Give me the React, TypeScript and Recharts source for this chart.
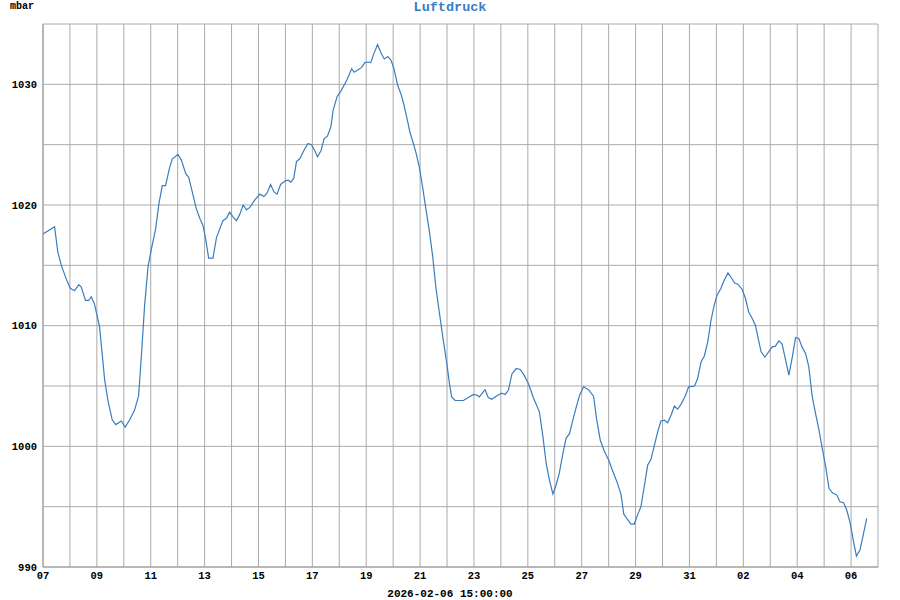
import React from 'react';
import { LineChart, Line, XAxis, YAxis, CartesianGrid } from 'recharts';

// time in days since 2026-01-07 00:00
const dayOffsets = [
  0.0, 0.43, 0.55, 0.68, 0.86, 1.01, 1.17, 1.33, 1.42, 1.58, 1.7, 1.79, 1.91,
  2.1, 2.29, 2.41, 2.57, 2.7, 2.91, 3.05, 3.22, 3.4, 3.55, 3.65, 3.77, 3.9,
  4.02, 4.18, 4.31, 4.43, 4.55, 4.7, 4.8, 5.01, 5.14, 5.3, 5.41, 5.53, 5.69,
  5.82, 5.94, 6.03, 6.15, 6.31, 6.44, 6.56, 6.68, 6.81, 6.93, 7.06, 7.18, 7.3,
  7.43, 7.55, 7.68, 7.86, 8.05, 8.2, 8.32, 8.45, 8.57, 8.69, 8.82, 9.0, 9.1,
  9.2, 9.31, 9.41, 9.54, 9.68, 9.84, 9.97, 10.09, 10.19, 10.32, 10.44, 10.56,
  10.69, 10.77, 10.92, 11.05, 11.17, 11.29, 11.46, 11.55, 11.7, 11.83, 11.95,
  12.05, 12.17, 12.26, 12.42, 12.55, 12.67, 12.8, 12.92, 13.03, 13.17, 13.29,
  13.4, 13.54, 13.62, 13.75, 13.85, 13.97, 14.1, 14.22, 14.34, 14.47, 14.59,
  14.74, 14.86, 14.99, 15.09, 15.17, 15.3, 15.48, 15.61, 15.79, 15.98, 16.1,
  16.2, 16.41, 16.53, 16.66, 16.85, 17.03, 17.16, 17.28, 17.41, 17.57, 17.72,
  17.86, 18.02, 18.21, 18.43, 18.56, 18.68, 18.8, 18.93, 19.05, 19.17, 19.3,
  19.42, 19.55, 19.67, 19.8, 19.92, 20.07, 20.25, 20.44, 20.56, 20.69, 20.84,
  21.0, 21.16, 21.33, 21.46, 21.56, 21.68, 21.83, 21.95, 22.07, 22.2, 22.32,
  22.45, 22.57, 22.7, 22.82, 22.94, 23.07, 23.19, 23.32, 23.44, 23.56, 23.69,
  23.85, 23.97, 24.19, 24.3, 24.43, 24.55, 24.68, 24.8, 24.92, 25.02, 25.17,
  25.29, 25.43, 25.55, 25.68, 25.8, 25.96, 26.08, 26.2, 26.33, 26.45, 26.54,
  26.66, 26.8, 26.94, 27.07, 27.19, 27.32, 27.44, 27.57, 27.69, 27.82, 27.94,
  28.06, 28.18, 28.31, 28.43, 28.56, 28.68, 28.81, 28.93, 29.06, 29.18, 29.31,
  29.47, 29.59, 29.72, 29.84, 29.97, 30.09, 30.2, 30.33, 30.45, 30.58,
];

const pressure = [
  1017.6, 1018.2, 1016.1, 1015.0, 1013.9, 1013.1, 1012.9, 1013.4, 1013.2,
  1012.1, 1012.1, 1012.4, 1011.8, 1009.9, 1005.5, 1003.8, 1002.2, 1001.8,
  1002.1, 1001.6, 1002.2, 1003.0, 1004.2, 1007.4, 1011.6, 1014.9, 1016.3,
  1018.0, 1020.2, 1021.6, 1021.6, 1023.1, 1023.8, 1024.2, 1023.7, 1022.6,
  1022.3, 1021.2, 1019.7, 1018.9, 1018.3, 1017.3, 1015.6, 1015.6, 1017.3,
  1018.0, 1018.7, 1018.9, 1019.4, 1019.0, 1018.7, 1019.2, 1020.0, 1019.6,
  1019.8, 1020.4, 1020.9, 1020.7, 1021.0, 1021.7, 1021.1, 1020.9, 1021.7,
  1022.0, 1022.05, 1021.9, 1022.2, 1023.6, 1023.85, 1024.5, 1025.1, 1025.0,
  1024.5, 1024.0, 1024.5, 1025.5, 1025.7, 1026.5, 1027.85, 1029.0, 1029.4,
  1029.9, 1030.4, 1031.3, 1031.0, 1031.2, 1031.4, 1031.8, 1031.85, 1031.8,
  1032.4, 1033.3, 1032.6, 1032.1, 1032.3, 1032.0, 1031.3, 1029.9, 1029.2,
  1028.3, 1026.9, 1026.05, 1025.1, 1024.3, 1023.15, 1021.4, 1019.6, 1017.9,
  1015.7, 1013.1, 1010.7, 1008.8, 1006.9, 1005.2, 1004.1, 1003.8, 1003.8,
  1003.8, 1004.05, 1004.3, 1004.25, 1004.1, 1004.7, 1004.05, 1003.9, 1004.2,
  1004.4, 1004.3, 1004.66, 1006.0, 1006.45, 1006.37, 1005.9, 1005.2, 1004.0,
  1002.86, 1000.8, 998.6, 997.2, 996.05, 996.8, 997.8, 999.4, 1000.66,
  1001.07, 1002.17, 1003.27, 1004.24, 1004.93, 1004.7, 1004.16, 1002.17,
  1000.5, 999.6, 998.86, 997.9, 996.93, 996.0, 994.4, 994.0, 993.56, 993.56,
  994.3, 995.0, 996.65, 998.45, 998.9, 1000.1, 1001.2, 1002.1, 1002.17,
  1001.95, 1002.6, 1003.33, 1003.08, 1003.5, 1004.2, 1004.93, 1005.0, 1005.6,
  1007.0, 1007.47, 1008.66, 1010.45, 1011.7, 1012.5, 1013.1, 1013.77,
  1014.37, 1013.99, 1013.54, 1013.44, 1013.0, 1012.25, 1011.14, 1010.6,
  1010.04, 1009.07, 1007.83, 1007.4, 1007.83, 1008.24, 1008.3, 1008.74,
  1008.47, 1007.14, 1005.9, 1007.42, 1009.02, 1008.94, 1008.24, 1007.7,
  1006.6, 1004.1, 1002.73, 1001.35, 999.83, 998.3, 996.52, 996.15, 995.96,
  995.41, 995.33, 994.72, 993.62, 992.1, 990.91, 991.4, 992.65, 994.03,
];

// day-of-month labels for each day gridline (day 0 = 07 Jan ... day 31 = 07 Feb)
const dayLabels = [
  '07', '08', '09', '10', '11', '12', '13', '14', '15', '16', '17', '18', '19',
  '20', '21', '22', '23', '24', '25', '26', '27', '28', '29', '30', '31', '01',
  '02', '03', '04', '05', '06', '07',
];
const xTicks = dayLabels.map((_, i) => i);
const yTicks = [990, 995, 1000, 1005, 1010, 1015, 1020, 1025, 1030, 1035];
const yLabelled = [990, 1000, 1010, 1020, 1030];

const title = 'Luftdruck';
const unitLabel = 'mbar';
const timestampLabel = '2026-02-06 15:00:00';

const data = dayOffsets.map((d, i) => ({ t: d, p: pressure[i] }));

const FONT = '"Liberation Mono", "Courier New", monospace';
const BLUE = '#3a7dbf';
const tickStyle = { fontSize: 10.5, fontFamily: FONT, fontWeight: 'bold', fill: '#000' };

export default function App() {
  return (
    <div style={{ position: 'absolute', left: 0, top: 0, width: 900, height: 600, background: '#fff' }}>
      <LineChart
        width={900}
        height={600}
        data={data}
        margin={{ top: 24, right: 22, bottom: 0, left: 0 }}
      >
        <CartesianGrid stroke="#aaaaaa" strokeWidth={1} />
        <XAxis
          dataKey="t"
          type="number"
          domain={[0, 31]}
          ticks={xTicks}
          interval={0}
          height={33}
          tickLine={false}
          tickSize={3}
          tickMargin={2}
          stroke="#999999"
          tick={tickStyle}
          tickFormatter={(v: number) => (v % 2 === 0 && v < 31 ? dayLabels[v] : '')}
        />
        <YAxis
          type="number"
          domain={[990, 1035]}
          ticks={yTicks}
          interval={0}
          width={43}
          tickLine={false}
          tickSize={4}
          tickMargin={2}
          stroke="#999999"
          tick={tickStyle}
          tickFormatter={(v: number) => (yLabelled.includes(v) ? String(v) : '')}
        />
        <Line
          type="linear"
          dataKey="p"
          stroke={BLUE}
          strokeWidth={1.2}
          dot={false}
          isAnimationActive={false}
        />
      </LineChart>
      <svg
        width={900}
        height={600}
        style={{ position: 'absolute', left: 0, top: 0, pointerEvents: 'none' }}
      >
        <text x={450} y={11} textAnchor="middle" fontFamily={FONT} fontWeight="bold" fontSize={13.5} fill={BLUE}>
          {title}
        </text>
        <text x={10} y={9} fontFamily={FONT} fontWeight="bold" fontSize={10} fill="#000">
          {unitLabel}
        </text>
        <text x={450} y={597} textAnchor="middle" fontFamily={FONT} fontWeight="bold" fontSize={11} fill="#000">
          {timestampLabel}
        </text>
      </svg>
    </div>
  );
}
